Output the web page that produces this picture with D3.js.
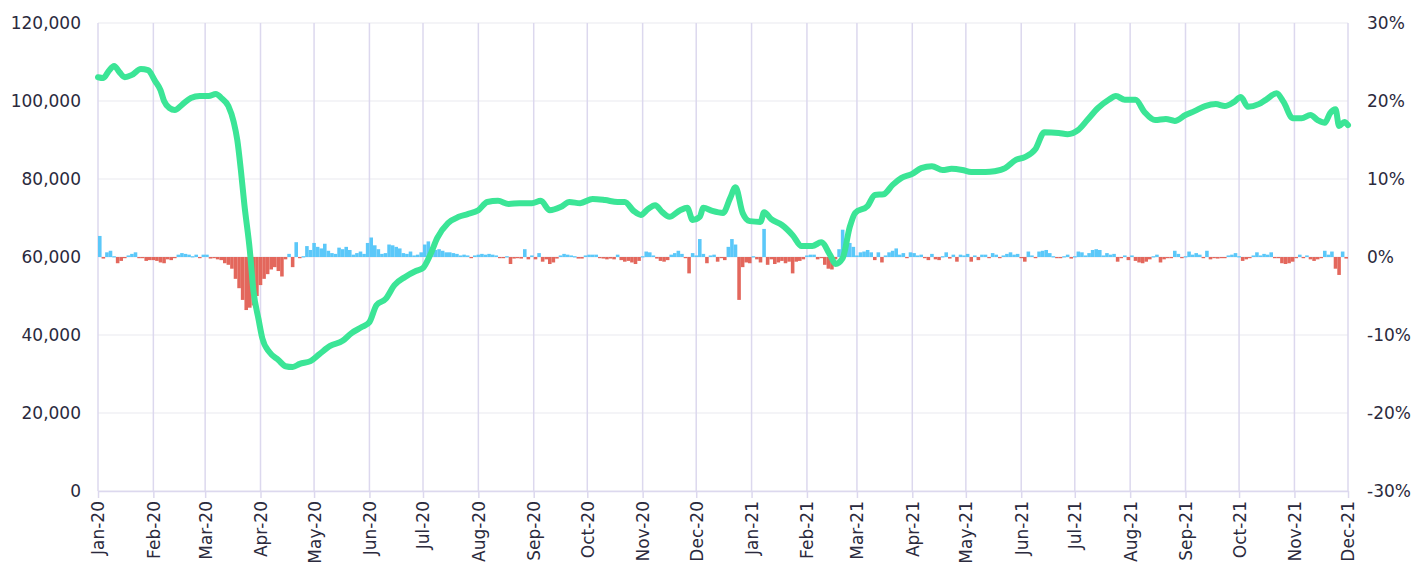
<!DOCTYPE html>
<html>
<head>
<meta charset="utf-8">
<script src="https://cdn.jsdelivr.net/npm/d3@7"></script>
<style>
  body { margin: 0; background: #fff; }
  text { font-family: "DejaVu Sans", sans-serif; fill: #2b2a3d; }
</style>
</head>
<body>
<script>
// green line (left axis)
var lineDates = [
  "2020-01-01","2020-01-04","2020-01-07","2020-01-10","2020-01-13","2020-01-16","2020-01-20","2020-01-25","2020-01-29",
  "2020-02-02","2020-02-05","2020-02-07","2020-02-10","2020-02-13","2020-02-17","2020-02-22","2020-02-27",
  "2020-03-03","2020-03-07","2020-03-10","2020-03-14","2020-03-17","2020-03-19","2020-03-21","2020-03-23","2020-03-26","2020-03-28","2020-03-31",
  "2020-04-02","2020-04-06","2020-04-11","2020-04-15","2020-04-19","2020-04-23","2020-04-29",
  "2020-05-04","2020-05-10","2020-05-17","2020-05-22","2020-05-28",
  "2020-06-01","2020-06-05","2020-06-10","2020-06-15","2020-06-21","2020-06-27",
  "2020-07-01","2020-07-05","2020-07-09","2020-07-15","2020-07-21","2020-07-26",
  "2020-08-01","2020-08-06","2020-08-12","2020-08-18","2020-08-24","2020-08-31",
  "2020-09-05","2020-09-10","2020-09-16","2020-09-21","2020-09-27",
  "2020-10-04","2020-10-11","2020-10-18","2020-10-22","2020-10-27","2020-10-31",
  "2020-11-04","2020-11-08","2020-11-12","2020-11-16","2020-11-22","2020-11-26","2020-11-29",
  "2020-12-03","2020-12-05","2020-12-10","2020-12-16","2020-12-20","2020-12-23","2020-12-27","2020-12-31",
  "2021-01-06","2021-01-08","2021-01-12","2021-01-18","2021-01-24","2021-01-29",
  "2021-02-04","2021-02-09","2021-02-14","2021-02-17","2021-02-21","2021-02-25","2021-02-28",
  "2021-03-07","2021-03-11","2021-03-16","2021-03-21","2021-03-26",
  "2021-04-01","2021-04-06","2021-04-12","2021-04-18","2021-04-23","2021-04-29",
  "2021-05-04","2021-05-12","2021-05-17","2021-05-23","2021-05-29",
  "2021-06-03","2021-06-09","2021-06-14","2021-06-22","2021-06-27",
  "2021-07-03","2021-07-08","2021-07-14","2021-07-20","2021-07-24","2021-07-29",
  "2021-08-04","2021-08-09","2021-08-15","2021-08-21","2021-08-26",
  "2021-09-01","2021-09-06","2021-09-12","2021-09-18","2021-09-23","2021-09-28",
  "2021-10-02","2021-10-06","2021-10-12","2021-10-16","2021-10-22","2021-10-26","2021-10-31",
  "2021-11-05","2021-11-10","2021-11-14","2021-11-18","2021-11-21","2021-11-24","2021-11-26","2021-11-29","2021-12-01"
];
var lineValues = [
  106100,105900,107700,109000,107400,106100,106700,108200,107900,
  105100,102800,100000,98200,97700,99000,100800,101300,
  101300,101800,100800,98700,94600,90000,82300,73300,61800,51500,43800,
  39200,35600,33600,32000,31800,32600,33300,
  35100,37200,38500,40500,42100,
  43300,47700,49200,52800,54900,56400,
  57200,60500,64900,68700,70300,71000,
  72000,74100,74400,73600,73800,73800,
  74400,72000,72800,74100,73800,
  74900,74600,74100,74100,71800,70800,
  72300,73300,71500,70300,72000,72600,69500,
  70300,72600,71800,71300,75100,77900,71300,69200,
  69000,71500,69700,68200,65600,62800,
  62800,63800,60500,58200,59700,67700,71300,
  73100,75900,76100,78500,80300,
  81300,82800,83300,82300,82600,82300,
  81800,81800,82000,82800,84900,
  85600,87700,92000,91800,91500,
  92600,95100,98200,100300,101300,100300,
  100300,97200,95100,95400,94900,
  96400,97400,98700,99200,98700,99700,
  101000,98500,99200,100300,102000,99700,95600,
  95600,96400,95100,94400,96900,97900,93600,94600,93800
];

// bars (right axis, %), one bar per two days
var barStart2020 = "2020-01-01";
var barValues2020 = [
  2.7,-0.2,0.6,0.8,0.1,-0.8,-0.5,-0.1,0.2,0.4,
  0.6,-0.1,-0.1,-0.5,-0.4,-0.4,-0.5,-0.7,-0.8,-0.3,
  -0.4,-0.1,0.3,0.5,0.4,0.3,0.1,0.3,-0.1,0.3,
  0.3,-0.2,-0.1,-0.3,-0.4,-0.8,-1.0,-1.5,-2.8,-4.0,
  -5.5,-6.8,-6.5,-6.2,-5.0,-3.6,-2.8,-2.2,-1.6,-1.3,
  -1.8,-2.5,-0.3,0.4,-1.3,1.9,-0.1,0.1,1.4,0.9,
  1.8,1.3,1.1,1.7,0.8,0.5,0.4,1.2,1.0,1.3,
  0.9,0.3,0.5,0.7,0.4,1.8,2.5,1.5,1.0,0.4,
  0.5,1.6,1.5,1.3,1.1,0.5,0.4,0.7,0.2,0.3,
  0.6,1.6,2.0,1.2,0.9,1.0,0.8,0.6,0.6,0.5,
  0.4,0.2,0.3,0.2,-0.1,0.2,0.3,0.4,0.3,0.4,
  0.3,0.2,-0.1,-0.1,0.1,-0.9,-0.2,-0.1,-0.2,1.0,
  -0.3,0.2,-0.3,0.5,-0.6,-0.3,-0.9,-0.7,-0.2,0.2,
  0.4,0.3,0.2,0.1,-0.2,-0.2,0.2,0.3,0.3,0.3,
  -0.1,-0.2,-0.3,-0.2,-0.3,0.3,-0.4,-0.6,-0.5,-0.7,
  -0.9,-0.5,0.1,0.7,0.6,0.2,-0.2,-0.5,-0.6,-0.4,
  0.3,0.5,0.8,0.4,-0.1,-2.1,0.5,0.2,2.3,0.4,
  -0.8,0.2,0.3,-0.6,-0.1,-0.4,1.3,2.3,1.6,-5.5,
  -1.3,-0.7,-0.8
];
var barStart2021 = "2021-01-01";
var barValues2021 = [
  0.1,-0.3,-0.7,3.6,-1.0,-0.3,-0.9,
  -0.7,-0.5,-0.8,-0.6,-2.1,-0.6,-0.5,-0.3,0.2,0.3,
  0.3,-0.3,-0.1,-1.0,-1.5,-1.6,-0.3,1.0,3.5,2.4,
  1.8,1.3,0.2,0.6,0.7,0.9,0.6,-0.4,0.6,-0.7,
  0.2,0.6,0.8,1.1,0.3,0.5,-0.1,0.6,0.5,0.2,
  0.3,-0.1,-0.4,0.4,-0.3,-0.4,0.1,0.6,-0.2,0.3,
  -0.6,0.3,0.2,0.4,-0.6,0.2,-0.4,0.3,0.3,-0.1,
  0.5,0.3,-0.1,0.2,0.4,0.6,0.3,0.4,-0.1,-0.6,
  0.7,0.2,-0.1,0.7,0.8,0.9,0.5,0.1,-0.1,-0.1,
  0.1,0.3,-0.2,0.1,0.7,0.6,0.2,0.5,0.9,1.0,
  0.9,0.2,0.5,0.3,0.4,-0.6,-0.1,0.2,-0.4,0.2,
  -0.5,-0.7,-0.8,-0.6,-0.3,0.1,0.3,-0.7,-0.3,-0.1,
  -0.1,0.8,0.4,-0.1,0.1,0.7,0.3,0.5,0.3,-0.1,
  0.8,-0.3,-0.1,-0.2,-0.1,-0.1,0.2,0.3,0.5,0.1,
  -0.5,-0.3,-0.1,0.2,0.6,0.2,0.4,0.3,0.6,-0.1,
  -0.1,-0.8,-0.9,-0.8,-0.6,-0.1,0.3,-0.1,0.2,-0.3,
  -0.5,-0.3,-0.1,0.8,0.3,0.7,-1.5,-2.3,0.7,-0.2
];

var leftTicks = [0, 20000, 40000, 60000, 80000, 100000, 120000];
var rightTicks = [-30, -20, -10, 0, 10, 20, 30];
var xStart = "2020-01-01", xEnd = "2021-12-01";

var w = 1413, h = 567;
var margin = {top: 23, right: 65, bottom: 76, left: 98};
var parse = d3.timeParse("%Y-%m-%d");

var line = lineDates.map(function (d, i) { return {date: parse(d), value: lineValues[i]}; });
var bars = [];
[[barStart2020, barValues2020], [barStart2021, barValues2021]].forEach(function (s) {
  var start = parse(s[0]);
  s[1].forEach(function (v, i) {
    bars.push({date: d3.timeDay.offset(start, 2 * i), end: d3.timeDay.offset(start, 2 * i + 2), value: v});
  });
});

var x = d3.scaleTime()
  .domain([parse(xStart), parse(xEnd)])
  .range([margin.left, w - margin.right]);
var yL = d3.scaleLinear().domain([0, 120000]).range([h - margin.bottom, margin.top]);
var yR = d3.scaleLinear().domain([-30, 30]).range([h - margin.bottom, margin.top]);

var svg = d3.select("body").append("svg").attr("width", w).attr("height", h);

// horizontal grid
svg.append("g").selectAll("line").data(leftTicks).enter().append("line")
  .attr("x1", margin.left).attr("x2", w - margin.right)
  .attr("y1", function (d) { return yL(d); }).attr("y2", function (d) { return yL(d); })
  .attr("stroke", "#f1f0f5").attr("stroke-width", 1.5);

var months = d3.timeMonth.range(parse(xStart), d3.timeDay.offset(parse(xEnd), 1));

// vertical grid
svg.append("g").selectAll("line").data(months).enter().append("line")
  .attr("x1", function (d) { return x(d); }).attr("x2", function (d) { return x(d); })
  .attr("y1", margin.top).attr("y2", h - margin.bottom)
  .attr("stroke", "#dcd8ee").attr("stroke-width", 1.5);

// bars
svg.append("g").selectAll("rect").data(bars).enter().append("rect")
  .attr("x", function (d) { return x(d.date); })
  .attr("width", function (d) { return Math.max(0, Math.min(x(d.end), w - margin.right) - x(d.date)); })
  .attr("y", function (d) { return d.value >= 0 ? yR(d.value) : yR(0); })
  .attr("height", function (d) { return Math.max(1.2, Math.abs(yR(d.value) - yR(0))); })
  .attr("fill", function (d) { return d.value >= 0 ? "#5bc8f9" : "#e3675c"; });

// green line
svg.append("path")
  .datum(line)
  .attr("fill", "none")
  .attr("stroke", "#3be596")
  .attr("stroke-width", 6)
  .attr("stroke-linejoin", "round")
  .attr("stroke-linecap", "round")
  .attr("d", d3.line()
    .x(function (d) { return x(d.date); })
    .y(function (d) { return yL(d.value); })
    .curve(d3.curveMonotoneX));

// x axis
var xAxis = svg.append("g")
  .attr("transform", "translate(0," + (h - margin.bottom) + ")")
  .call(d3.axisBottom(x).tickValues(months).tickFormat(d3.timeFormat("%b-%y")).tickSize(7).tickSizeOuter(0));
xAxis.select(".domain").attr("stroke", "#dcd8ee").attr("stroke-width", 1.5);
xAxis.selectAll(".tick line").attr("stroke", "#dcd8ee").attr("stroke-width", 1.5);
xAxis.selectAll(".tick text")
  .attr("font-size", 17)
  .attr("text-anchor", "end")
  .attr("transform", "rotate(-90)")
  .attr("x", -10).attr("y", 0).attr("dy", "0.35em");

// left axis
var left = svg.append("g")
  .attr("transform", "translate(" + margin.left + ",0)")
  .call(d3.axisLeft(yL).tickValues(leftTicks).tickFormat(d3.format(",")).tickSize(0).tickPadding(17));
left.select(".domain").remove();
left.selectAll(".tick text").attr("font-size", 17);

// right axis
var right = svg.append("g")
  .attr("transform", "translate(" + (w - margin.right) + ",0)")
  .call(d3.axisRight(yR).tickValues(rightTicks).tickFormat(function (d) { return d + "%"; }).tickSize(0).tickPadding(19));
right.select(".domain").remove();
right.selectAll(".tick text").attr("font-size", 17);
</script>
</body>
</html>
